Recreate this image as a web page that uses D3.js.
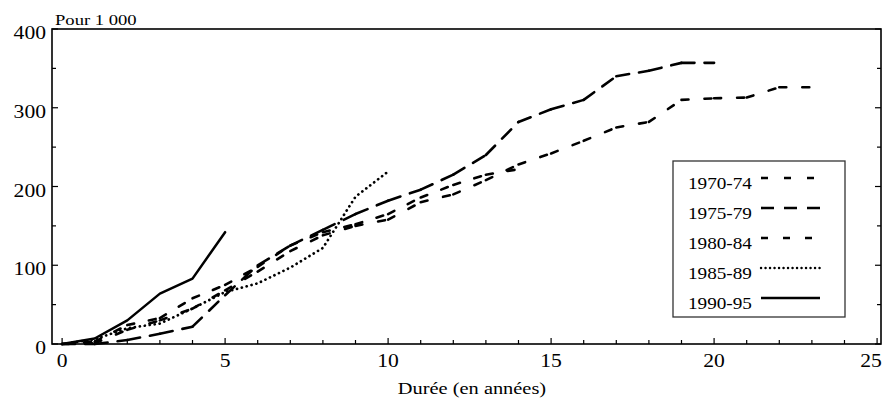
<!DOCTYPE html>
<html><head><meta charset="utf-8">
<script src="https://cdn.jsdelivr.net/npm/d3@7"></script>
<style>body{margin:0;background:#fff}svg{display:block}text{font-family:"Liberation Serif","Times New Roman",serif;fill:#000}</style>
</head><body>
<svg id="c" width="886" height="405"></svg>
<script>
const years = d3.range(0, 26);
const xTicks = [0, 5, 10, 15, 20, 25];
const yTicks = [0, 100, 200, 300, 400];
const seriesNames = ["1970-74", "1975-79", "1980-84", "1985-89", "1990-95"];
const s1970 = [0, 1, 18, 30, 45, 68, 92, 118, 138, 150, 158, 180, 190, 208, 228, 242, 258, 275, 282, 310, 312, 313, 326, 326];
const s1975 = [0, 0, 5, 13, 22, 62, 100, 125, 145, 165, 182, 196, 215, 240, 282, 298, 310, 340, 347, 357, 357];
const s1980 = [0, 3, 24, 33, 58, 75, 98, 125, 142, 152, 165, 186, 202, 215, 222];
const s1985 = [0, 6, 20, 26, 45, 66, 77, 97, 122, 187, 219];
const s1990 = [0, 7, 30, 64, 83, 142];
const dashes = ["7,16", "13,10", "7,15", "0.1,4.9", null];

const svg = d3.select("#c");
const x = d3.scaleLinear().domain([-0.31, 25.12]).range([52, 881]);
const y = d3.scaleLinear().domain([0, 400]).range([344, 29]);
const SX = 1.2;
function txt(g, px, py, size, s, anchor) {
  return g.append("text").attr("transform", `translate(${px},${py}) scale(${SX},1)`)
    .attr("font-size", size).attr("text-anchor", anchor || "start").text(s);
}

// frame
svg.append("rect").attr("x", 52).attr("y", 29).attr("width", 829).attr("height", 315)
  .attr("fill", "none").attr("stroke", "#000").attr("stroke-width", 1.6);

// x ticks (inward)
const gx = svg.append("g");
years.forEach(t => {
  const major = t % 5 === 0;
  gx.append("line").attr("x1", x(t)).attr("x2", x(t)).attr("y1", 344).attr("y2", 344 - (major ? 6 : 4))
    .attr("stroke", "#000").attr("stroke-width", 1.2);
});
xTicks.forEach(t => txt(gx, Math.min(x(t), 871), 367, 18, t, "middle"));

// y ticks
const gy = svg.append("g");
d3.range(0, 401, 50).forEach(v => {
  const major = v % 100 === 0;
  gy.append("line").attr("x1", 52).attr("x2", 52 + (major ? 6 : 4)).attr("y1", y(v)).attr("y2", y(v))
    .attr("stroke", "#000").attr("stroke-width", 1.2);
  gy.append("line").attr("x1", 881).attr("x2", 881 - (major ? 6 : 4)).attr("y1", y(v)).attr("y2", y(v))
    .attr("stroke", "#000").attr("stroke-width", 1.2);
});
yTicks.forEach(v => txt(gy, 46, y(v) + 10, 18, v, "end"));

txt(svg, 55, 25, 15.5, "Pour 1 000");
txt(svg, 472, 394, 17, "Durée (en années)", "middle");

// series (each segment restarts the dash pattern)
const data = [s1970, s1975, s1980, s1985, s1990];
const line = d3.line().x(d => x(d[0])).y(d => y(d[1]));
data.forEach((s, i) => {
  const pts = s.map((v, k) => [k, v]);
  const g = svg.append("g");
  if (dashes[i] === null || i === 3) {
    g.append("path").attr("d", line(pts)).attr("fill", "none").attr("stroke", "#000")
      .attr("stroke-width", i === 3 ? 2.7 : 2.5).attr("stroke-dasharray", dashes[i])
      .attr("stroke-linecap", "round").attr("stroke-linejoin", "round");
  } else {
    for (let k = 0; k < pts.length - 1; k++) {
      g.append("path").attr("d", line([pts[k], pts[k + 1]])).attr("fill", "none").attr("stroke", "#000")
        .attr("stroke-width", 2.6).attr("stroke-dasharray", dashes[i]).attr("stroke-linecap", "round");
    }
  }
});

// legend
const lg = svg.append("g");
lg.append("rect").attr("x", 673).attr("y", 161).attr("width", 172).attr("height", 156)
  .attr("fill", "#fff").attr("stroke", "#333").attr("stroke-width", 1.3);
seriesNames.forEach((n, i) => {
  const cy = 183 + i * 30;
  txt(lg, 688, cy + 6, 16, n);
  lg.append("line").attr("x1", 761).attr("x2", 820).attr("y1", cy - 5).attr("y2", cy - 5)
    .attr("stroke", "#000").attr("stroke-width", i === 3 ? 2.4 : 2.6)
    .attr("stroke-dasharray", i === 3 ? "0.1,4.4" : dashes[i])
    .attr("stroke-linecap", i === 3 ? "round" : "butt");
});
</script>
</body></html>
